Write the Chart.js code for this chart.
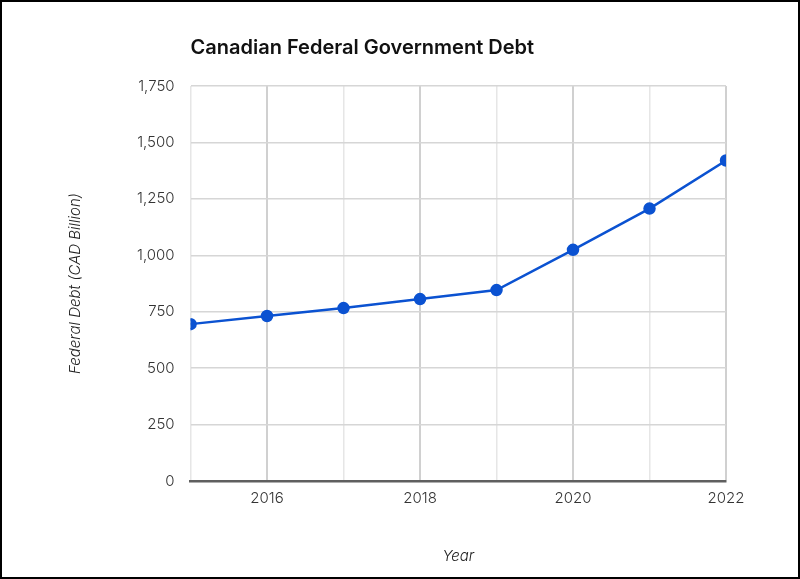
<!DOCTYPE html>
<html>
<head>
<meta charset="utf-8">
<script src="https://cdn.jsdelivr.net/npm/chart.js@4"></script>
<style>
  html, body { margin: 0; padding: 0; background: #fff; }
  #wrap { width: 800px; height: 579px; box-sizing: border-box; border: 2px solid #000; position: relative; }
  canvas { display: block; }
</style>
</head>
<body>
<div id="wrap"><canvas id="debtChart" width="796" height="575"></canvas></div>
<script>
const years = [2015, 2016, 2017, 2018, 2019, 2020, 2021, 2022];
const federalDebt = [695, 731, 766, 806, 846, 1024, 1207, 1420];
const yTicks = [0, 250, 500, 750, 1000, 1250, 1500, 1750];

const blue = '#0b52d1';
const font = "Inter, 'Open Sans', sans-serif";

const ctx = document.getElementById('debtChart').getContext('2d');
new Chart(ctx, {
    type: 'line',
    data: {
        datasets: [{
            label: 'Federal Debt',
            data: years.map((y, i) => ({ x: y, y: federalDebt[i] })),
            borderColor: blue,
            backgroundColor: blue,
            borderWidth: 2.5,
            pointRadius: 5,
            pointHoverRadius: 5,
            tension: 0
        }]
    },
    options: {
        responsive: false,
        animation: false,
        layout: { padding: { left: 64, right: 72, top: 22, bottom: 12 } },
        plugins: {
            legend: { display: false },
            tooltip: { enabled: false },
            title: {
                display: true,
                text: 'Canadian Federal Government Debt',
                align: 'start',
                fullSize: false,
                color: '#111',
                font: { family: font, size: 20, weight: '600' },
                padding: { top: 12, bottom: 26 }
            }
        },
        scales: {
            x: {
                type: 'linear',
                min: 2015,
                max: 2022,
                ticks: {
                    stepSize: 1,
                    autoSkip: false,
                    color: '#333',
                    font: { family: font, size: 15, weight: '300' },
                    padding: 8,
                    callback: v => (v % 2 === 0 ? String(v) : '')
                },
                grid: {
                    drawTicks: false,
                    color: c => (c.tick.value % 2 === 0 ? '#d0d0d0' : '#e6e6e6'),
                    lineWidth: c => (c.tick.value % 2 === 0 ? 2 : 1.5)
                },
                border: { display: true, color: '#5f5f5f', width: 2.5 },
                title: {
                    display: true,
                    text: 'Year',
                    color: '#222',
                    font: { family: font, size: 15, style: 'italic', weight: '300' },
                    padding: { top: 32, bottom: 0 }
                }
            },
            y: {
                min: 0,
                max: 1750,
                afterBuildTicks: axis => { axis.ticks = yTicks.map(v => ({ value: v })); },
                ticks: {
                    color: '#333',
                    font: { family: font, size: 15, weight: '300' },
                    padding: 16,
                    callback: v => v.toLocaleString('en-US')
                },
                grid: { drawTicks: false, color: '#d6d6d6', lineWidth: 1.5 },
                border: { display: false },
                title: {
                    display: true,
                    text: 'Federal Debt (CAD Billion)',
                    color: '#222',
                    font: { family: font, size: 15, style: 'italic', weight: '300' },
                    padding: { top: 0, bottom: 37 }
                }
            }
        }
    }
});
</script>
</body>
</html>
